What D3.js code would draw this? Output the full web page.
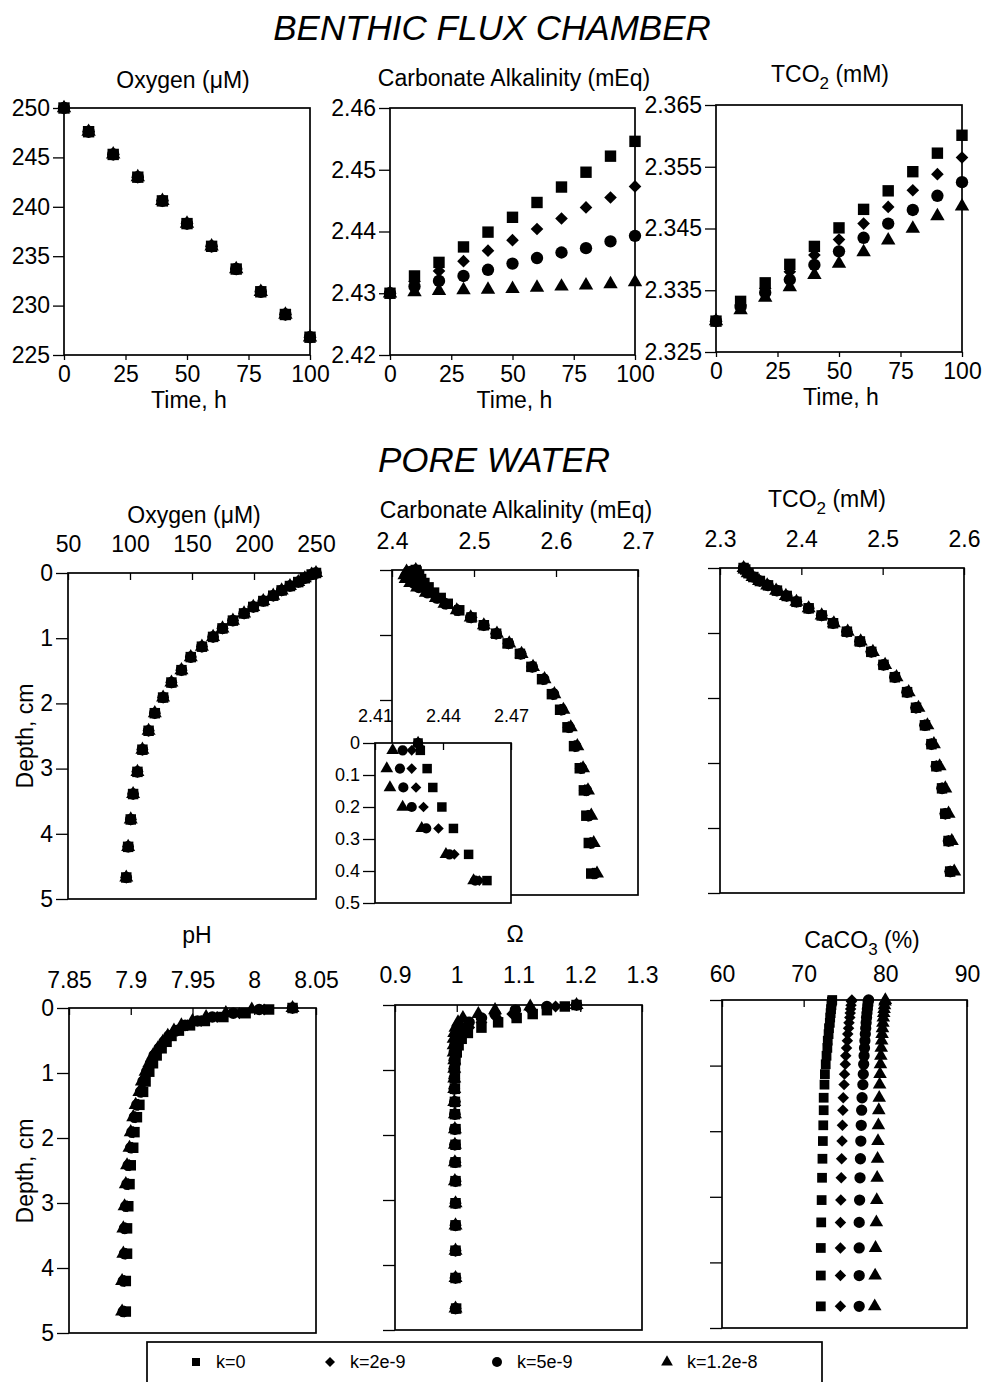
<!DOCTYPE html>
<html>
<head>
<meta charset="utf-8">
<script src="https://cdn.jsdelivr.net/npm/d3@7"></script>
<style>
  body { margin: 0; background: #fff; }
  svg { font-family: 'Liberation Sans', Arial, sans-serif; }
</style>
</head>
<body>
<div class="canvas"></div>
<script>
const svg = d3.select('.canvas')
    .append('svg')
    .attr('width', 983)
    .attr('height', 1382);

// ---- data ----
const seriesLabels = ['k=0', 'k=2e-9', 'k=5e-9', 'k=1.2e-8'];

// benthic flux chamber, time (h)
const hours = [0, 10, 20, 30, 40, 50, 60, 70, 80, 90, 100];
const hourTicks = [0, 25, 50, 75, 100];

const chamberO2 = [250, 247.6, 245.3, 243.0, 240.6, 238.3, 236.0, 233.7, 231.4, 229.1, 226.8];
const chamberO2Ticks = [225, 230, 235, 240, 245, 250];

const chamberAlk_k0 = [2.430, 2.4328, 2.4350, 2.4375, 2.4399, 2.4423, 2.4447, 2.4472, 2.4496, 2.4522, 2.4546];
const chamberAlk_k2 = [2.430, 2.4319, 2.4336, 2.4352, 2.4369, 2.4386, 2.4404, 2.4421, 2.4439, 2.4455, 2.4473];
const chamberAlk_k5 = [2.430, 2.4311, 2.4320, 2.4328, 2.4338, 2.4348, 2.4357, 2.4366, 2.4373, 2.4384, 2.4393];
const chamberAlk_k12 = [2.430, 2.4302, 2.4304, 2.4305, 2.4306, 2.4307, 2.4309, 2.4311, 2.4313, 2.4315, 2.4318];
const chamberAlkTicks = [2.42, 2.43, 2.44, 2.45, 2.46];

const chamberTCO2_k0 = [2.330, 2.3332, 2.3362, 2.3392, 2.3421, 2.3451, 2.3481, 2.3511, 2.3542, 2.3572, 2.3601];
const chamberTCO2_k2 = [2.330, 2.3326, 2.3353, 2.3380, 2.3407, 2.3432, 2.3458, 2.3485, 2.3512, 2.3538, 2.3565];
const chamberTCO2_k5 = [2.330, 2.3323, 2.3346, 2.3367, 2.3391, 2.3413, 2.3435, 2.3458, 2.3480, 2.3503, 2.3525];
const chamberTCO2_k12 = [2.330, 2.3318, 2.3338, 2.3355, 2.3375, 2.3393, 2.3412, 2.3431, 2.3450, 2.3470, 2.3486];
const chamberTCO2Ticks = [2.325, 2.335, 2.345, 2.355, 2.365];

// pore water, depth (cm)
const depthCm = [0, 0.023, 0.08, 0.139, 0.2, 0.267, 0.348, 0.43, 0.52, 0.62, 0.73, 0.85, 0.98,
                 1.13, 1.29, 1.49, 1.68, 1.91, 2.15, 2.42, 2.71, 3.05, 3.39, 3.78, 4.2, 4.67];
const depthTicks = [0, 1, 2, 3, 4, 5];
const insetDepthTicks = [0, 0.1, 0.2, 0.3, 0.4, 0.5];

const poreO2 = [250, 246.5, 241, 235.7, 229, 222.3, 215.5, 207.5, 199.4, 192, 183, 174.6, 167,
                158, 149, 141.5, 133.4, 126.7, 120, 115, 110, 106, 102.5, 100.6, 98.5, 97];
const poreO2Ticks = [50, 100, 150, 200, 250];

const poreAlk_k0 = [2.429, 2.430, 2.433, 2.4355, 2.4395, 2.4446, 2.4513, 2.4594, 2.468, 2.482, 2.497, 2.512, 2.527,
                    2.541, 2.556, 2.570, 2.583, 2.595, 2.605, 2.614, 2.622, 2.629, 2.634, 2.637, 2.640, 2.643];
const poreAlk_k2 = [2.429, 2.4262, 2.4262, 2.4281, 2.4314, 2.438, 2.445, 2.456, 2.466, 2.481, 2.497, 2.512, 2.527,
                    2.542, 2.557, 2.571, 2.584, 2.596, 2.606, 2.615, 2.623, 2.630, 2.635, 2.639, 2.642, 2.645];
const poreAlk_k5 = [2.429, 2.4222, 2.421, 2.4225, 2.4262, 2.4326, 2.4428, 2.4542, 2.465, 2.480, 2.496, 2.512, 2.527,
                    2.542, 2.557, 2.571, 2.585, 2.597, 2.607, 2.616, 2.624, 2.631, 2.637, 2.640, 2.643, 2.647];
const poreAlk_k12 = [2.429, 2.4178, 2.4152, 2.4166, 2.4222, 2.4306, 2.4413, 2.4535, 2.464, 2.479, 2.496, 2.512, 2.528,
                     2.543, 2.558, 2.572, 2.586, 2.598, 2.609, 2.618, 2.626, 2.633, 2.639, 2.643, 2.646, 2.650];
const poreAlkTicks = [2.4, 2.5, 2.6, 2.7];
const insetAlkTicks = [2.41, 2.44, 2.47];

const poreTCO2 = [2.329, 2.331, 2.335, 2.341, 2.349, 2.359, 2.370, 2.382, 2.394, 2.409, 2.425, 2.439, 2.456,
                  2.472, 2.486, 2.501, 2.515, 2.530, 2.541, 2.552, 2.560, 2.566, 2.573, 2.577, 2.581, 2.583];
const poreTCO2_k12 = [2.329, 2.330, 2.334, 2.340, 2.348, 2.358, 2.369, 2.381, 2.394, 2.409, 2.425, 2.440, 2.457,
                      2.473, 2.488, 2.503, 2.517, 2.532, 2.544, 2.555, 2.563, 2.570, 2.577, 2.581, 2.585, 2.588];
const poreTCO2Ticks = [2.3, 2.4, 2.5, 2.6];

const pH_k0 = [8.031, 8.012, 7.993, 7.975, 7.960, 7.948, 7.939, 7.933, 7.929, 7.925, 7.921, 7.918, 7.915,
               7.912, 7.910, 7.907, 7.905, 7.903, 7.902, 7.900, 7.899, 7.898, 7.897, 7.897, 7.896, 7.896];
const pH_k2 = [8.031, 8.008, 7.988, 7.970, 7.957, 7.946, 7.938, 7.932, 7.928, 7.924, 7.920, 7.917, 7.914,
               7.911, 7.909, 7.906, 7.904, 7.902, 7.901, 7.899, 7.898, 7.897, 7.896, 7.896, 7.895, 7.895];
const pH_k5 = [8.031, 8.004, 7.983, 7.966, 7.954, 7.944, 7.937, 7.931, 7.927, 7.923, 7.919, 7.916, 7.913,
               7.910, 7.908, 7.905, 7.903, 7.901, 7.900, 7.898, 7.897, 7.896, 7.895, 7.895, 7.894, 7.894];
const pH_k12 = [8.031, 7.998, 7.977, 7.961, 7.950, 7.941, 7.935, 7.930, 7.926, 7.922, 7.918, 7.915, 7.912,
                7.909, 7.907, 7.904, 7.902, 7.900, 7.899, 7.897, 7.896, 7.895, 7.894, 7.894, 7.893, 7.893];
const pHTicks = [7.85, 7.9, 7.95, 8, 8.05];

const omega_k0 = [1.194, 1.175, 1.146, 1.123, 1.097, 1.067, 1.040, 1.018, 1.008, 1.003, 1.000, 0.998, 0.997,
                  0.997, 0.997, 0.997, 0.997, 0.998, 0.998, 0.998, 0.998, 0.998, 0.998, 0.998, 0.998, 0.999];
const omega_k2 = [1.194, 1.160, 1.120, 1.090, 1.065, 1.040, 1.020, 1.008, 1.002, 0.999, 0.997, 0.996, 0.996,
                  0.996, 0.996, 0.997, 0.997, 0.997, 0.997, 0.998, 0.998, 0.998, 0.998, 0.998, 0.998, 0.998];
const omega_k5 = [1.194, 1.146, 1.095, 1.062, 1.040, 1.020, 1.008, 1.002, 0.999, 0.997, 0.996, 0.996, 0.996,
                  0.996, 0.996, 0.997, 0.997, 0.997, 0.997, 0.997, 0.998, 0.998, 0.998, 0.998, 0.998, 0.998];
const omega_k12 = [1.194, 1.119, 1.062, 1.035, 1.010, 1.002, 0.998, 0.996, 0.995, 0.995, 0.995, 0.996, 0.996,
                   0.996, 0.996, 0.996, 0.997, 0.997, 0.997, 0.997, 0.997, 0.998, 0.998, 0.998, 0.998, 0.998];
const omegaTicks = [0.9, 1, 1.1, 1.2, 1.3];

const caco3_k0 = [73.5, 73.45, 73.4, 73.35, 73.3, 73.25, 73.2, 73.1, 73.05, 72.95, 72.9, 72.8, 72.7,
                  72.6, 72.55, 72.45, 72.45, 72.4, 72.35, 72.3, 72.25, 72.2, 72.15, 72.1, 72.1, 72.1];
const caco3_k2 = [75.9, 75.85, 75.8, 75.75, 75.7, 75.65, 75.55, 75.5, 75.4, 75.35, 75.25, 75.15, 75.1,
                  75.0, 74.95, 74.85, 74.8, 74.75, 74.7, 74.65, 74.6, 74.55, 74.5, 74.5, 74.5, 74.5];
const caco3_k5 = [77.95, 77.9, 77.85, 77.8, 77.75, 77.7, 77.65, 77.6, 77.55, 77.5, 77.45, 77.4, 77.35,
                  77.3, 77.25, 77.15, 77.1, 77.05, 77.0, 76.95, 76.9, 76.85, 76.8, 76.8, 76.8, 76.8];
const caco3_k12 = [80.0, 79.95, 79.9, 79.85, 79.8, 79.75, 79.7, 79.65, 79.6, 79.55, 79.5, 79.45, 79.4,
                   79.35, 79.3, 79.25, 79.2, 79.15, 79.1, 79.05, 79.0, 78.95, 78.9, 78.8, 78.75, 78.7];
const caco3Ticks = [60, 70, 80, 90];

// ---- symbols ----
const symDiamond = {
    draw(ctx, size) {
        const r = Math.sqrt(size / 2);
        ctx.moveTo(0, -r); ctx.lineTo(r, 0); ctx.lineTo(0, r); ctx.lineTo(-r, 0); ctx.closePath();
    }
};
const symbols = [d3.symbolSquare, symDiamond, d3.symbolCircle, d3.symbolTriangle];
const bigSizes = [130, 80, 120, 90];
const poreSizes = [110, 72, 105, 85];
const caco3Sizes = [95, 66, 100, 80];
const insetSizes = [90, 56, 82, 70];

// ---- helpers ----
const FONT = 23;

function addFrame(g, w, h, fill) {
    g.append('rect')
        .attr('width', w)
        .attr('height', h)
        .attr('fill', fill || 'none')
        .attr('stroke', 'black')
        .attr('stroke-width', 1.7);
}

function styleAxis(axisG, fontSize) {
    axisG.select('.domain').remove();
    axisG.selectAll('line').attr('stroke', 'black').attr('stroke-width', 1.3);
    axisG.selectAll('text')
        .attr('font-size', fontSize)
        .attr('font-family', "'Liberation Sans', Arial, sans-serif")
        .attr('fill', 'black');
}

// title with optional subscript pieces: [[text, isSub], ...]
function addTitle(x, y, parts) {
    const t = svg.append('text')
        .attr('x', x).attr('y', y)
        .attr('text-anchor', 'middle')
        .attr('font-size', FONT);
    let down = false;
    parts.forEach(([txt, sub]) => {
        const ts = t.append('tspan').text(txt);
        if (sub && !down) { ts.attr('dy', 7).attr('font-size', 17); down = true; }
        else if (!sub && down) { ts.attr('dy', -7); down = false; }
    });
}

// draws the four k-series; k=1.2e-8 first so the squares sit on top
function plotSeries(g, series, sizes) {
    for (let i = series.length - 1; i >= 0; i--) {
        g.append('g').selectAll('path')
            .data(series[i])
            .enter()
            .append('path')
                .attr('d', d3.symbol().type(symbols[i]).size(sizes[i]))
                .attr('transform', d => `translate(${d[0]},${d[1]})`)
                .attr('fill', 'black');
    }
}

function chamberPanel(left, top, w, h, yDomain, yTicks, seriesVals) {
    const g = svg.append('g').attr('transform', `translate(${left}, ${top})`);
    const x = d3.scaleLinear().domain([0, 100]).range([0, w]);
    const y = d3.scaleLinear().domain(yDomain).range([h, 0]);
    addFrame(g, w, h);

    const yAxisGroup = g.append('g')
        .call(d3.axisLeft(y).tickValues(yTicks).tickFormat(d => String(d))
            .tickSizeInner(11).tickSizeOuter(0).tickPadding(3));
    styleAxis(yAxisGroup, FONT);

    const xAxisGroup = g.append('g')
        .attr('transform', `translate(0, ${h})`)
        .call(d3.axisBottom(x).tickValues(hourTicks).tickFormat(d => String(d))
            .tickSizeInner(5).tickSizeOuter(0).tickPadding(6));
    styleAxis(xAxisGroup, FONT);

    g.append('text')
        .attr('x', w / 2 + 2).attr('y', h + 53)
        .attr('text-anchor', 'middle')
        .attr('font-size', FONT)
        .text('Time, h');

    plotSeries(g, seriesVals.map(vals => vals.map((v, i) => [x(hours[i]), y(v)])), bigSizes);
}

function porePanel(o) {
    const g = svg.append('g').attr('transform', `translate(${o.left}, ${o.top})`);
    const x = d3.scaleLinear().domain(o.xDomain).range([0, o.w]);
    const y = d3.scaleLinear().domain(o.yDomain || [0, 5]).range([0, o.h]);
    addFrame(g, o.w, o.h, o.fill);

    const yAxis = d3.axisLeft(y).tickValues(o.yTicks || depthTicks)
        .tickSizeInner(12).tickSizeOuter(0).tickPadding(3);
    if (o.yLabels) yAxis.tickFormat(d => String(d));
    else yAxis.tickFormat('');
    styleAxis(g.append('g').call(yAxis), o.fontSize || FONT);

    const xAxis = d3.axisTop(x).tickValues(o.xTicks).tickFormat(d => String(d))
        .tickSizeInner(-7).tickSizeOuter(0).tickPadding(o.pad || 21);
    styleAxis(g.append('g').call(xAxis), o.fontSize || FONT);

    const maxDepth = y.domain()[1];
    const pts = o.series.map(vals => vals
        .map((v, i) => ({v, d: depthCm[i]}))
        .filter(p => p.d <= maxDepth)
        .map(p => [x(p.v), y(p.d)]));
    plotSeries(g, pts, o.sizes || poreSizes);
    return g;
}

function depthLabel(cy) {
    svg.append('text')
        .attr('transform', `translate(33, ${cy}) rotate(-90)`)
        .attr('text-anchor', 'middle')
        .attr('font-size', FONT)
        .text('Depth, cm');
}

// ---- headings ----
svg.append('text')
    .attr('x', 492).attr('y', 40)
    .attr('text-anchor', 'middle')
    .attr('font-size', 35)
    .attr('font-style', 'italic')
    .text('BENTHIC FLUX CHAMBER');

svg.append('text')
    .attr('x', 494).attr('y', 472)
    .attr('text-anchor', 'middle')
    .attr('font-size', 35)
    .attr('font-style', 'italic')
    .text('PORE WATER');

// ---- benthic flux chamber row ----
addTitle(183, 88, [['Oxygen ('], ['\u03BCM)']]);
chamberPanel(64, 108, 246, 247, [225, 250], chamberO2Ticks,
    [chamberO2, chamberO2, chamberO2, chamberO2]);

addTitle(514, 86, [['Carbonate Alkalinity (mEq)']]);
chamberPanel(390, 108, 245, 247, [2.42, 2.46], chamberAlkTicks,
    [chamberAlk_k0, chamberAlk_k2, chamberAlk_k5, chamberAlk_k12]);

addTitle(830, 82, [['TCO'], ['2', true], [' (mM)']]);
chamberPanel(716, 105, 246, 247, [2.325, 2.365], chamberTCO2Ticks,
    [chamberTCO2_k0, chamberTCO2_k2, chamberTCO2_k5, chamberTCO2_k12]);

// ---- pore water, first row ----
addTitle(194, 523, [['Oxygen ('], ['\u03BCM)']]);
porePanel({left: 68, top: 573, w: 248, h: 326, xDomain: [50, 250], xTicks: poreO2Ticks,
    yLabels: true, series: [poreO2, poreO2, poreO2, poreO2]});
depthLabel(736);

addTitle(516, 518, [['Carbonate Alkalinity (mEq)']]);
porePanel({left: 392, top: 570, w: 246, h: 325, xDomain: [2.4, 2.7], xTicks: poreAlkTicks,
    series: [poreAlk_k0, poreAlk_k2, poreAlk_k5, poreAlk_k12]});

// inset: top half-centimetre of alkalinity
porePanel({left: 375, top: 743, w: 136, h: 160, xDomain: [2.41, 2.47], xTicks: insetAlkTicks,
    yDomain: [0, 0.5], yTicks: insetDepthTicks, yLabels: true, fill: 'white', fontSize: 18,
    pad: 21, sizes: insetSizes,
    series: [poreAlk_k0, poreAlk_k2, poreAlk_k5, poreAlk_k12]});

addTitle(827, 507, [['TCO'], ['2', true], [' (mM)']]);
porePanel({left: 720, top: 568, w: 244, h: 325, xDomain: [2.3, 2.6], xTicks: poreTCO2Ticks,
    series: [poreTCO2, poreTCO2, poreTCO2, poreTCO2_k12]});

// ---- pore water, second row ----
addTitle(197, 943, [['pH']]);
porePanel({left: 69, top: 1008, w: 247, h: 325, xDomain: [7.85, 8.05], xTicks: pHTicks,
    yLabels: true, pad: 20, series: [pH_k0, pH_k2, pH_k5, pH_k12]});
depthLabel(1171);

addTitle(515, 942, [['\u03A9']]);
porePanel({left: 395, top: 1005, w: 247, h: 325, xDomain: [0.9, 1.3], xTicks: omegaTicks,
    pad: 22, series: [omega_k0, omega_k2, omega_k5, omega_k12]});

addTitle(862, 948, [['CaCO'], ['3', true], [' (%)']]);
porePanel({left: 722, top: 1000, w: 245, h: 328, xDomain: [60, 90], xTicks: caco3Ticks,
    pad: 18, sizes: caco3Sizes, series: [caco3_k0, caco3_k2, caco3_k5, caco3_k12]});

// ---- legend ----
const legend = svg.append('g');
legend.append('rect')
    .attr('x', 147).attr('y', 1342)
    .attr('width', 675).attr('height', 60)
    .attr('fill', 'white')
    .attr('stroke', 'black')
    .attr('stroke-width', 1.7);

const legendX = [196, 330, 497, 667];
const legendSizes = [64, 50, 78, 60];
seriesLabels.forEach((lab, i) => {
    legend.append('path')
        .attr('d', d3.symbol().type(symbols[i]).size(legendSizes[i]))
        .attr('transform', `translate(${legendX[i]}, 1362)`)
        .attr('fill', 'black');
    legend.append('text')
        .attr('x', legendX[i] + 20).attr('y', 1368)
        .attr('font-size', 18)
        .text(lab);
});
</script>
</body>
</html>
